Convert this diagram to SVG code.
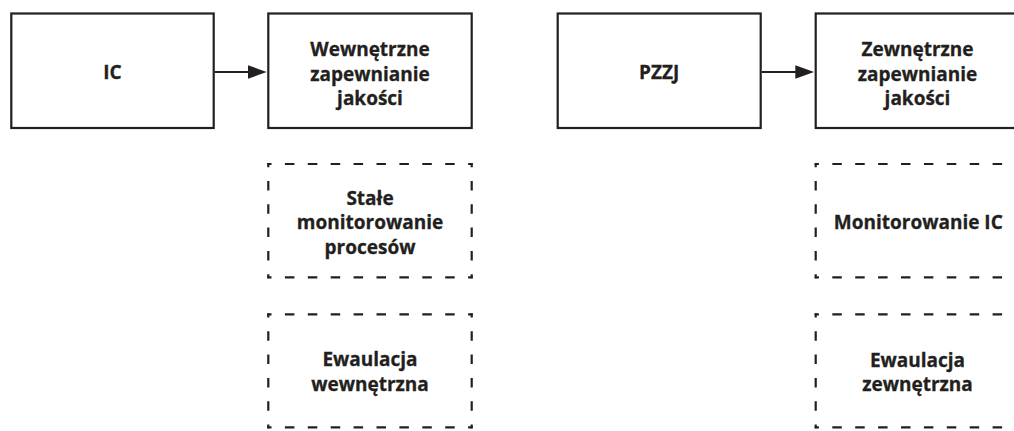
<svg xmlns="http://www.w3.org/2000/svg" width="1014" height="431" viewBox="0 0 1014 431">
<style>
.box{fill:#fff;stroke:#231f20;stroke-width:2.2}
.d{fill:none;stroke:#231f20;stroke-width:2.2}
.dh{stroke-dasharray:9.5 13.4;stroke-dashoffset:5.3}
.dv{stroke-dasharray:9.5 13.8;stroke-dashoffset:5.3}
.t{font-family:"Open Sans","Liberation Sans",sans-serif;font-weight:bold;font-size:19px;fill:#231f20;stroke:#231f20;stroke-width:0.3;text-anchor:middle}
.c{fill:none;stroke:#231f20;stroke-width:2.2}
.h{fill:#231f20}
</style>
<rect width="1014" height="431" fill="#fff"/>
<g id="n-ic">
<rect class="box" x="11.3" y="13.5" width="202.4" height="114.5"/>
<text class="t" x="112.5" y="79">IC</text>
</g>
<g id="n-wzj">
<rect class="box" x="268.3" y="13.5" width="203.4" height="114.5"/>
<text class="t" x="370" y="56">Wewnętrzne</text>
<text class="t" x="370" y="80.5">zapewnianie</text>
<text class="t" x="370" y="105">jakości</text>
</g>
<g id="n-pzzj">
<rect class="box" x="557.7" y="13.5" width="203" height="114.5"/>
<text class="t" x="659.2" y="79">PZZJ</text>
</g>
<g id="n-zzj">
<rect class="box" x="815.7" y="13.5" width="203" height="114.5"/>
<text class="t" x="917.5" y="56">Zewnętrzne</text>
<text class="t" x="917.5" y="80.5">zapewnianie</text>
<text class="t" x="917.5" y="105">jakości</text>
</g>
<g id="n-smp">
<path class="d dh" d="M267.3 164H472.7M267.3 277.3H472.7"/>
<path class="d dv" d="M268.3 163V278.3M471.7 163V278.3"/>
<text class="t" x="370" y="204.5">Stałe</text>
<text class="t" x="370" y="229">monitorowanie</text>
<text class="t" x="370" y="253.5">procesów</text>
</g>
<g id="n-ew">
<path class="d dh" d="M267.3 314.3H472.7M267.3 427.3H472.7"/>
<path class="d dv" d="M268.3 313.3V428.3M471.7 313.3V428.3"/>
<text class="t" x="370" y="366">Ewaulacja</text>
<text class="t" x="370" y="390.5">wewnętrzna</text>
</g>
<g id="n-mic">
<path class="d dh" d="M814.7 164H1020M814.7 277.3H1020"/>
<path class="d dv" d="M815.7 163V278.3"/>
<text class="t" x="918.3" y="229">Monitorowanie IC</text>
</g>
<g id="n-ez">
<path class="d dh" d="M814.7 314.3H1020M814.7 427.3H1020"/>
<path class="d dv" d="M815.7 313.3V428.3"/>
<text class="t" x="917.5" y="366.5">Ewaulacja</text>
<text class="t" x="917.5" y="391">zewnętrzna</text>
</g>
<g id="connectors">
<path class="c" d="M214.7 72H252"/>
<polygon class="h" points="248,65.2 266.7,72 248,78.8"/>
<path class="c" d="M761.7 72H799"/>
<polygon class="h" points="795.3,65.2 814,72 795.3,78.8"/>
</g>
</svg>
